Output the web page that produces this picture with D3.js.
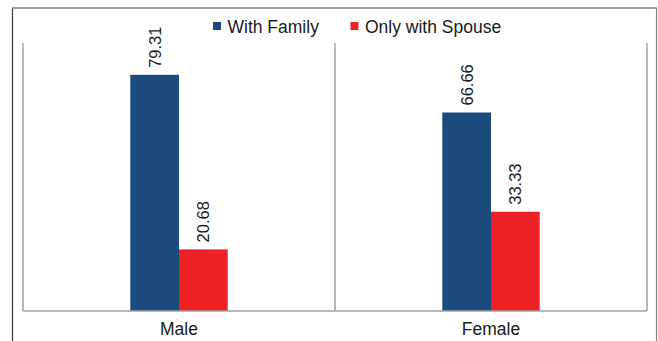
<!DOCTYPE html>
<html>
<head>
<meta charset="utf-8">
<script src="https://cdn.jsdelivr.net/npm/d3@7"></script>
<style>
  body { margin: 0; background: #fff; }
  text { font-family: "Liberation Sans", Arial, sans-serif; fill: #1a1a1a; }
</style>
</head>
<body>
<div id="chart"></div>
<script>
var categories = ['Male', 'Female'];
var seriesNames = ['With Family', 'Only with Spouse'];
var withFamily = [79.31, 66.66];
var onlySpouse = [20.68, 33.33];
var colors = ['#1b4a7d', '#ee2124'];

var width = 658, height = 341;
var plotLeft = 23, plotRight = 647, plotTop = 43, plotBottom = 311;

var svg = d3.select('#chart').append('svg')
    .attr('width', width)
    .attr('height', height);

// outer frame (open at the bottom)
svg.append('line').attr('x1', 12.5).attr('x2', 12.5).attr('y1', 8).attr('y2', height)
    .attr('stroke', '#3a3a3a').attr('stroke-width', 1.2);
svg.append('line').attr('x1', 12).attr('x2', 657).attr('y1', 8).attr('y2', 8)
    .attr('stroke', '#808080').attr('stroke-width', 1.5);
svg.append('line').attr('x1', 656.5).attr('x2', 656.5).attr('y1', 8).attr('y2', height)
    .attr('stroke', '#808080').attr('stroke-width', 1.2);

var x = d3.scaleBand().domain(categories).range([plotLeft, plotRight]);
var xInner = d3.scaleBand().domain(seriesNames).range([-48.7, 48.7]);
var y = d3.scaleLinear().domain([0, 90]).range([plotBottom, plotTop]);

var data = categories.map(function(c, i) {
    return { cat: c, values: [withFamily[i], onlySpouse[i]] };
});

// category separators
var seps = [plotLeft].concat(categories.map(function(c) { return x(c) + x.bandwidth(); }));
svg.selectAll('line.sep')
    .data(seps)
    .enter()
    .append('line')
    .attr('class', 'sep')
    .attr('x1', function(d) { return d; })
    .attr('x2', function(d) { return d; })
    .attr('y1', plotTop)
    .attr('y2', plotBottom)
    .attr('stroke', '#a0a0a0')
    .attr('stroke-width', 1.5);

var groups = svg.selectAll('g.cat')
    .data(data)
    .enter()
    .append('g')
    .attr('class', 'cat')
    .attr('transform', function(d) {
        return 'translate(' + (x(d.cat) + x.bandwidth() / 2) + ',0)';
    });

groups.selectAll('rect')
    .data(function(d) { return d.values; })
    .enter()
    .append('rect')
    .attr('x', function(d, i) { return xInner(seriesNames[i]); })
    .attr('width', xInner.bandwidth())
    .attr('y', function(d) { return y(d); })
    .attr('height', function(d) { return y(0) - y(d); })
    .attr('fill', function(d, i) { return colors[i]; });

groups.selectAll('text.val')
    .data(function(d) { return d.values; })
    .enter()
    .append('text')
    .attr('class', 'val')
    .attr('transform', function(d, i) {
        var cx = xInner(seriesNames[i]) + xInner.bandwidth() / 2 + 6;
        return 'translate(' + cx + ',' + (y(d) - 7) + ') rotate(-90)';
    })
    .attr('font-size', 16.5)
    .text(function(d) { return d.toFixed(2); });

// baseline
svg.append('line')
    .attr('x1', plotLeft).attr('x2', plotRight)
    .attr('y1', plotBottom).attr('y2', plotBottom)
    .attr('stroke', '#a0a0a0').attr('stroke-width', 1.5);

// category labels
svg.selectAll('text.cat')
    .data(categories)
    .enter()
    .append('text')
    .attr('class', 'cat')
    .attr('x', function(d) { return x(d) + x.bandwidth() / 2; })
    .attr('y', 335)
    .attr('text-anchor', 'middle')
    .attr('font-size', 17.5)
    .text(function(d) { return d; });

// legend
var legendX = [213, 350.5];
var legend = svg.selectAll('g.legend')
    .data(seriesNames)
    .enter()
    .append('g')
    .attr('class', 'legend')
    .attr('transform', function(d, i) { return 'translate(' + legendX[i] + ',22)'; });

legend.append('rect')
    .attr('width', 8)
    .attr('height', 8)
    .attr('fill', function(d, i) { return colors[i]; });

legend.append('text')
    .attr('x', 14.5)
    .attr('y', 11)
    .attr('font-size', 17.5)
    .text(function(d) { return d; });
</script>
</body>
</html>
